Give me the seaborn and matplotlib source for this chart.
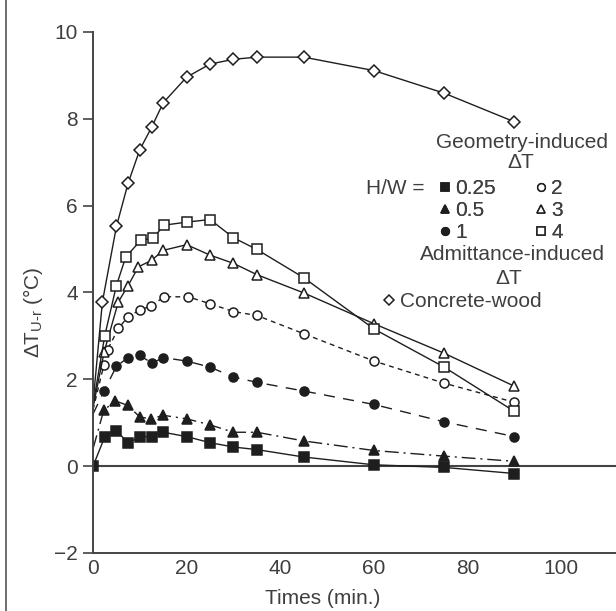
import matplotlib
matplotlib.use('Agg')
import matplotlib.pyplot as plt
import seaborn as sns
from matplotlib.lines import Line2D

# valores (tempo em min, delta T em °C)
t_025 = [0, 2.5, 5, 7.5, 10, 12.5, 15, 20, 25, 30, 35, 45, 60, 75, 90]
v_025 = [0, 0.67, 0.82, 0.53, 0.68, 0.68, 0.78, 0.68, 0.54, 0.44, 0.38, 0.21, 0.03, -0.03, -0.17]

t_05 = [0, 2.3, 4.8, 7.4, 10, 12.4, 15, 20, 25, 30, 35, 45, 60, 75, 90]
v_05 = [0.4, 1.29, 1.50, 1.40, 1.13, 1.09, 1.17, 1.09, 0.95, 0.78, 0.78, 0.58, 0.36, 0.23, 0.11]

t_1 = [0, 2.4, 5, 7.5, 10, 12.6, 15, 20, 25, 30, 35, 45, 60, 75, 90]
v_1 = [1.2, 1.74, 2.30, 2.50, 2.55, 2.37, 2.50, 2.42, 2.28, 2.05, 1.93, 1.73, 1.42, 1.02, 0.68]

t_2 = [0, 2.3, 3.1, 5.4, 7.4, 10, 12.3, 15.2, 20.3, 25, 30, 35, 45, 60, 75, 90]
v_2 = [1.3, 2.32, 2.68, 3.17, 3.43, 3.60, 3.68, 3.90, 3.90, 3.74, 3.56, 3.47, 3.05, 2.42, 1.91, 1.47]

t_3 = [0, 2.4, 5.4, 7.5, 9.7, 12.5, 15, 20, 25, 30, 35, 45, 60, 75, 90]
v_3 = [1.35, 2.64, 3.78, 4.16, 4.59, 4.74, 4.97, 5.10, 4.86, 4.67, 4.41, 3.99, 3.28, 2.60, 1.84]

t_4 = [0, 2.5, 5, 7, 10.2, 12.8, 15.2, 20, 25, 30, 35, 45, 60, 75, 90]
v_4 = [1.4, 3.00, 4.16, 4.82, 5.20, 5.25, 5.55, 5.62, 5.68, 5.26, 4.99, 4.34, 3.16, 2.28, 1.26]

t_cw = [0, 2, 5, 7.5, 10, 12.5, 15, 20, 25, 30, 35, 45, 60, 75, 90]
v_cw = [1.45, 3.78, 5.52, 6.52, 7.29, 7.80, 8.37, 8.96, 9.26, 9.37, 9.42, 9.42, 9.11, 8.59, 7.93]

hw_labels = ['0.25', '0.5', '1', '2', '3', '4']
x_ticks = [0, 20, 40, 60, 80, 100]
y_ticks = [-2, 0, 2, 4, 6, 8, 10]

INK = '#1e1e1e'
TXT = '#3f3f3f'
FS = 15


def px(x, y):
    # pixel -> fração da figura
    return x / 616, 1 - y / 611


def main():
    sns.set_theme(style='white')
    plt.rcParams['font.family'] = ['Liberation Sans', 'DejaVu Sans']
    plt.rcParams['mathtext.fontset'] = 'custom'
    plt.rcParams['mathtext.rm'] = 'Liberation Sans'

    fig = plt.figure(figsize=(6.16, 6.11), dpi=100)
    ax = fig.add_axes([0.151, 0.095, 0.849, 0.8527])

    # (tempos, valores, marcador, preenchido, estilo de linha)
    series = [
        (t_025, v_025, 's', True, '-'),
        (t_05, v_05, '^', True, (0, (10, 3.5, 1.5, 3.5))),
        (t_1, v_1, 'o', True, (0, (8, 6))),
        (t_2, v_2, 'o', False, (0, (3.5, 3))),
        (t_3, v_3, '^', False, '-'),
        (t_4, v_4, 's', False, '-'),
        (t_cw, v_cw, 'D', False, '-'),
    ]
    for tt, vv, mk, filled, ls in series:
        first = 0 if mk == 's' and filled else 1
        sns.lineplot(x=tt, y=vv, ax=ax, color=INK, linewidth=1.0,
                     linestyle=ls, marker=mk, markevery=slice(first, None),
                     markersize=6.5,
                     markerfacecolor=INK if filled else 'white',
                     markeredgecolor=INK, markeredgewidth=1.1,
                     errorbar=None, sort=False)

    ax.axhline(0, color='#444444', linewidth=1.5, zorder=1)

    ax.set_xlim(0, 111.7)
    ax.set_ylim(-2, 10)
    ax.set_xticks(x_ticks)
    ax.set_yticks(y_ticks)
    ax.set_yticklabels(['\u22122'] + [str(v) for v in y_ticks[1:]])
    ax.tick_params(axis='y', length=7, width=1.2, color='#444444', pad=4,
                   labelsize=FS, labelcolor=TXT, left=True)
    ax.tick_params(axis='x', length=0, pad=4, labelsize=FS, labelcolor=TXT)
    for side in ['top', 'right']:
        ax.spines[side].set_visible(False)
    for side in ['left', 'bottom']:
        ax.spines[side].set_color('#444444')
        ax.spines[side].set_linewidth(1.4)
    ax.set_facecolor('none')

    ax.set_xlabel('Times (min.)', fontsize=FS, color=TXT)
    ax.xaxis.set_label_coords(0.44, -0.07)
    ax.set_ylabel('\u0394T$_{\\mathrm{U\u2010r}}$ (°C)', fontsize=FS, color=TXT)
    ax.yaxis.set_label_coords(-0.092, 0.4626)

    def h(mk, filled):
        return Line2D([], [], linestyle='none', marker=mk, markersize=5.5,
                      markerfacecolor=INK if filled else 'white',
                      markeredgecolor=INK, markeredgewidth=1.1)

    handles = [h('s', True), h('^', True), h('o', True),
               h('o', False), h('^', False), h('s', False)]
    # duas colunas do bloco H/W
    for i, xpos in enumerate([441, 537]):
        leg = fig.legend(handles[3 * i:3 * i + 3], hw_labels[3 * i:3 * i + 3],
                         frameon=False, fontsize=FS, loc='upper left',
                         bbox_to_anchor=px(xpos, 179), handlelength=0.4,
                         handletextpad=0.28, labelspacing=0.15,
                         borderpad=0, borderaxespad=0)
        for t in leg.get_texts():
            t.set_color(TXT)
        fig.add_artist(leg)

    leg2 = fig.legend([h('D', False)], ['Concrete-wood'], frameon=False,
                      fontsize=FS, loc='upper left', bbox_to_anchor=px(385, 292),
                      handlelength=0.4, handletextpad=0.3,
                      borderpad=0, borderaxespad=0)
    for t in leg2.get_texts():
        t.set_color(TXT)

    fig.text(*px(522, 142), 'Geometry-induced', ha='center', va='center',
             fontsize=FS, color=TXT)
    fig.text(*px(521, 163), '\u0394T', ha='center', va='center',
             fontsize=FS, color=TXT)
    fig.text(*px(512, 255), 'Admittance-induced', ha='center', va='center',
             fontsize=FS, color=TXT)
    fig.text(*px(509, 278), '\u0394T', ha='center', va='center',
             fontsize=FS, color=TXT)
    fig.text(*px(425, 188), 'H/W =', ha='right', va='center',
             fontsize=FS, color=TXT)

    # linha de borda à esquerda
    fig.add_artist(Line2D([6 / 616, 6 / 616], [0, 1], color='#555555', linewidth=1.2))

    fig.savefig('out.png', dpi=100)


if __name__ == '__main__':
    main()
